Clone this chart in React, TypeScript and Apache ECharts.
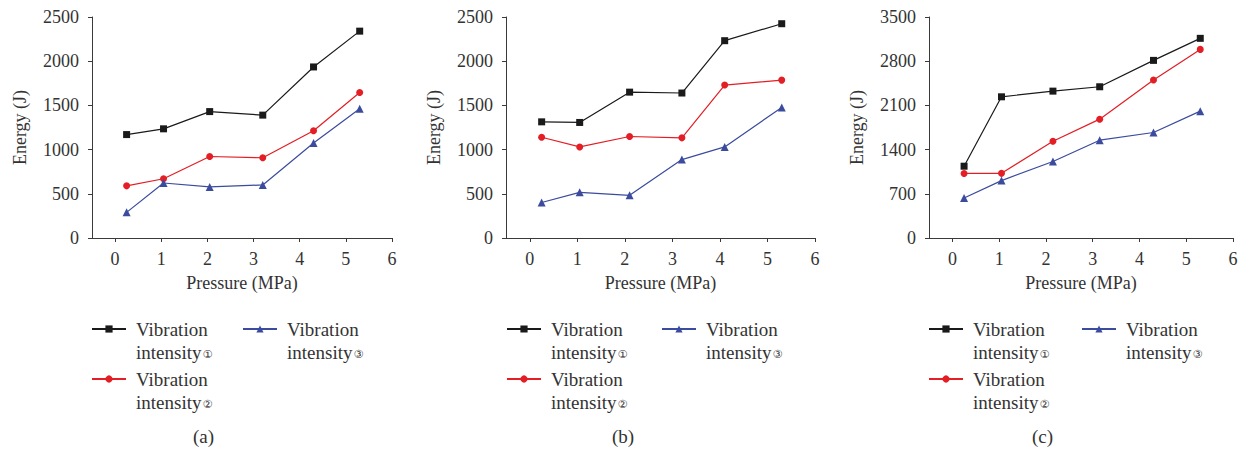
import React, { useEffect, useRef } from "react";
import * as echarts from "echarts";

const seriesNames = ["Vibration intensity①", "Vibration intensity②", "Vibration intensity③"];
const seriesColors = ["#1a1a1a", "#e31e24", "#3b4b9e"];
const seriesSymbols = ["rect", "circle", "triangle"];
const panelLabels = ["(a)", "(b)", "(c)"];
const xTickValues = [0, 1, 2, 3, 4, 5, 6];

const pressureA = [0.25, 1.05, 2.05, 3.2, 4.3, 5.3];
const pressureB = [0.25, 1.05, 2.1, 3.2, 4.1, 5.3];
const pressureC = [0.25, 1.05, 2.15, 3.15, 4.3, 5.3];

const energyA1 = [1170, 1235, 1430, 1390, 1935, 2340];
const energyA2 = [590, 670, 922, 908, 1213, 1645];
const energyA3 = [290, 622, 578, 600, 1075, 1463];

const energyB1 = [1314, 1307, 1650, 1640, 2232, 2424];
const energyB2 = [1140, 1030, 1148, 1133, 1730, 1786];
const energyB3 = [402, 517, 483, 887, 1030, 1477];

const energyC1 = [1137, 2236, 2326, 2395, 2813, 3162];
const energyC2 = [1022, 1024, 1533, 1882, 2501, 2987];
const energyC3 = [634, 909, 1211, 1549, 1671, 2009];

const panelPressures = [pressureA, pressureB, pressureC];
const panelEnergies = [
  [energyA1, energyA2, energyA3],
  [energyB1, energyB2, energyB3],
  [energyC1, energyC2, energyC3],
];
const yMax = [2500, 2500, 3500];
const yInterval = [500, 500, 700];

const FONT = "Liberation Serif";
const TEXT = "#333333";
const AXIS = "#3a3a3a";

const gridLefts = [92, 506, 929];
const gridWidths = [300, 309, 304];
const legendLefts = [91, 506, 928];
const legendCol2 = [242, 661, 1081];
const captionX = [203, 622, 1042];

export default function App() {
  const ref = useRef<HTMLDivElement>(null);
  useEffect(() => {
    if (!ref.current) return;
    const chart = echarts.init(ref.current, null, { renderer: "svg" });
    const grid: any[] = [];
    const xAxis: any[] = [];
    const yAxis: any[] = [];
    const series: any[] = [];
    const legend: any[] = [];
    const graphic: any[] = [];
    for (let p = 0; p < 3; p++) {
      grid.push({ left: gridLefts[p], width: gridWidths[p], top: 17, height: 221 });
      xAxis.push({
        type: "value",
        gridIndex: p,
        min: -0.5,
        max: 6,
        name: "Pressure (MPa)",
        nameLocation: "middle",
        nameGap: 36,
        nameTextStyle: { fontFamily: FONT, fontSize: 18, color: TEXT },
        axisLine: { onZero: false, lineStyle: { color: AXIS, width: 1 } },
        axisTick: { show: true, customValues: xTickValues, length: 4, lineStyle: { color: AXIS } },
        axisLabel: {
          customValues: xTickValues,
          fontFamily: FONT,
          fontSize: 18,
          color: TEXT,
          margin: 12,
          formatter: (v: number) => String(v),
        },
        splitLine: { show: false },
      });
      yAxis.push({
        type: "value",
        gridIndex: p,
        min: 0,
        max: yMax[p],
        interval: yInterval[p],
        name: "Energy (J)",
        nameLocation: "middle",
        nameGap: 63,
        nameRotate: 90,
        nameTextStyle: { fontFamily: FONT, fontSize: 18, color: TEXT },
        axisLine: { show: true, onZero: false, lineStyle: { color: AXIS, width: 1 } },
        axisTick: { show: true, length: 4, lineStyle: { color: AXIS } },
        axisLabel: {
          fontFamily: FONT,
          fontSize: 18,
          color: TEXT,
          margin: 13,
          formatter: (v: number) => String(v),
        },
        splitLine: { show: false },
      });
      for (let s = 0; s < 3; s++) {
        series.push({
          type: "line",
          name: seriesNames[s],
          xAxisIndex: p,
          yAxisIndex: p,
          data: panelPressures[p].map((x, i) => [x, panelEnergies[p][s][i]]),
          symbol: seriesSymbols[s],
          symbolSize: s === 2 ? 8 : 7,
          showSymbol: true,
          color: seriesColors[s],
          lineStyle: { color: seriesColors[s], width: 1.2 },
          itemStyle: { color: seriesColors[s] },
          emphasis: { disabled: true },
        });
      }
      const positions = [
        { left: legendLefts[p], top: 294.5 },
        { left: legendLefts[p], top: 344.5 },
        { left: legendCol2[p], top: 294.5 },
      ];
      for (let s = 0; s < 3; s++) {
        legend.push({
          data: [seriesNames[s]],
          left: positions[s].left,
          top: positions[s].top,
          padding: 0,
          itemWidth: 34,
          itemHeight: 9,
          selectedMode: false,
          formatter: (name: string) => "Vibration\nintensity{c|" + name.slice(-1) + "}",
          textStyle: {
            fontFamily: FONT,
            fontSize: 19,
            lineHeight: 23,
            color: TEXT,
            padding: [23, 0, 0, 5],
            rich: {
              c: { fontFamily: "DejaVu Sans", fontSize: 11, lineHeight: 23, color: TEXT, verticalAlign: "middle", padding: [4, 0, 0, 1] },
            },
          },
        });
      }
      graphic.push({
        type: "text",
        left: captionX[p] - 10,
        top: 427,
        style: { text: panelLabels[p], fontFamily: FONT, fontSize: 19, fill: TEXT },
      });
    }
    chart.setOption({
      animation: false,
      backgroundColor: "#ffffff",
      grid,
      xAxis,
      yAxis,
      series,
      legend,
      graphic,
    });
    return () => chart.dispose();
  }, []);
  return (
    <div
      ref={ref}
      style={{ position: "fixed", left: 0, top: 0, width: 1242, height: 453, background: "#fff" }}
    />
  );
}
